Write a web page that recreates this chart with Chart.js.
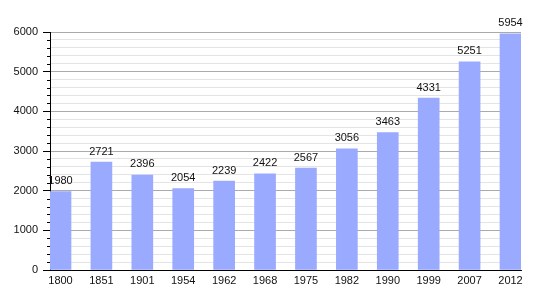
<!DOCTYPE html>
<html lang="en">
<head>
  <meta charset="UTF-8">
  <title>Population</title>
  <script src="https://cdn.jsdelivr.net/npm/chart.js"></script>
  <style>
    body { margin: 0; background: #fff; }
    .chart-container { position: relative; width: 550px; height: 300px; }
  </style>
</head>
<body>
  <div class="chart-container">
    <canvas id="popChart"></canvas>
  </div>

  <script>
    const years = ['1800', '1851', '1901', '1954', '1962', '1968', '1975', '1982', '1990', '1999', '2007', '2012'];
    const population = [1980, 2721, 2396, 2054, 2239, 2422, 2567, 3056, 3463, 4331, 5251, 5954];
    const yTicks = [0, 1000, 2000, 3000, 4000, 5000, 6000];

    const fontFamily = '"Liberation Sans", Arial, sans-serif';

    // value labels over the bars + short minor ticks on the y axis
    const extras = {
      id: 'extras',
      afterDatasetsDraw(chart) {
        const ctx = chart.ctx;
        const meta = chart.getDatasetMeta(0);
        ctx.save();
        ctx.font = '11px ' + fontFamily;
        ctx.fillStyle = '#111';
        ctx.textAlign = 'center';
        ctx.textBaseline = 'bottom';
        meta.data.forEach((bar, i) => {
          ctx.fillText(String(population[i]), bar.x, bar.y - 5);
        });
        const y = chart.scales.y;
        ctx.strokeStyle = '#000';
        ctx.lineWidth = 1;
        y.ticks.forEach(t => {
          if (t.value % 1000 === 0) return;
          const py = Math.round(y.getPixelForValue(t.value)) + 0.5;
          ctx.beginPath();
          ctx.moveTo(y.right - 3, py);
          ctx.lineTo(y.right, py);
          ctx.stroke();
        });
        ctx.restore();
      }
    };

    const ctx = document.getElementById('popChart').getContext('2d');
    new Chart(ctx, {
      type: 'bar',
      data: {
        datasets: [{
          data: population.map((v, i) => ({ x: i, y: v })),
          backgroundColor: '#99aaff',
          borderWidth: 0,
          barThickness: 21
        }]
      },
      options: {
        responsive: true,
        maintainAspectRatio: false,
        animation: false,
        layout: { padding: { left: 0, right: 29, top: 32, bottom: 0 } },
        plugins: {
          legend: { display: false },
          tooltip: { enabled: false }
        },
        scales: {
          x: {
            type: 'linear',
            offset: false,
            min: -10.5 / 40.9,
            max: 11 + 10.5 / 40.9,
            afterBuildTicks: scale => {
              scale.ticks = years.map((y, i) => ({ value: i }));
            },
            afterFit: scale => { scale.height = 30; },
            grid: { display: false, drawTicks: false, offset: false },
            border: { display: true, color: '#000', width: 1 },
            ticks: {
              autoSkip: false,
              maxRotation: 0,
              padding: 4,
              color: '#111',
              font: { family: fontFamily, size: 11 },
              callback: v => years[v]
            }
          },
          y: {
            min: 0,
            max: 6000,
            afterBuildTicks: scale => {
              const t = [];
              for (let v = 0; v <= 6000; v += 200) t.push({ value: v });
              scale.ticks = t;
            },
            afterFit: scale => { scale.width = 50; },
            grid: {
              color: c => (c.tick && c.tick.value % 1000 === 0) ? '#aaaaaa' : '#e4e4e4',
              tickColor: c => (c.tick && c.tick.value % 1000 === 0) ? '#000' : 'rgba(0,0,0,0)',
              tickLength: 7
            },
            border: { display: true, color: '#000', width: 1 },
            ticks: {
              autoSkip: false,
              padding: 5,
              color: '#111',
              font: { family: fontFamily, size: 11 },
              callback: v => yTicks.includes(v) ? String(v) : ''
            }
          }
        }
      },
      plugins: [extras]
    });
  </script>
</body>
</html>
